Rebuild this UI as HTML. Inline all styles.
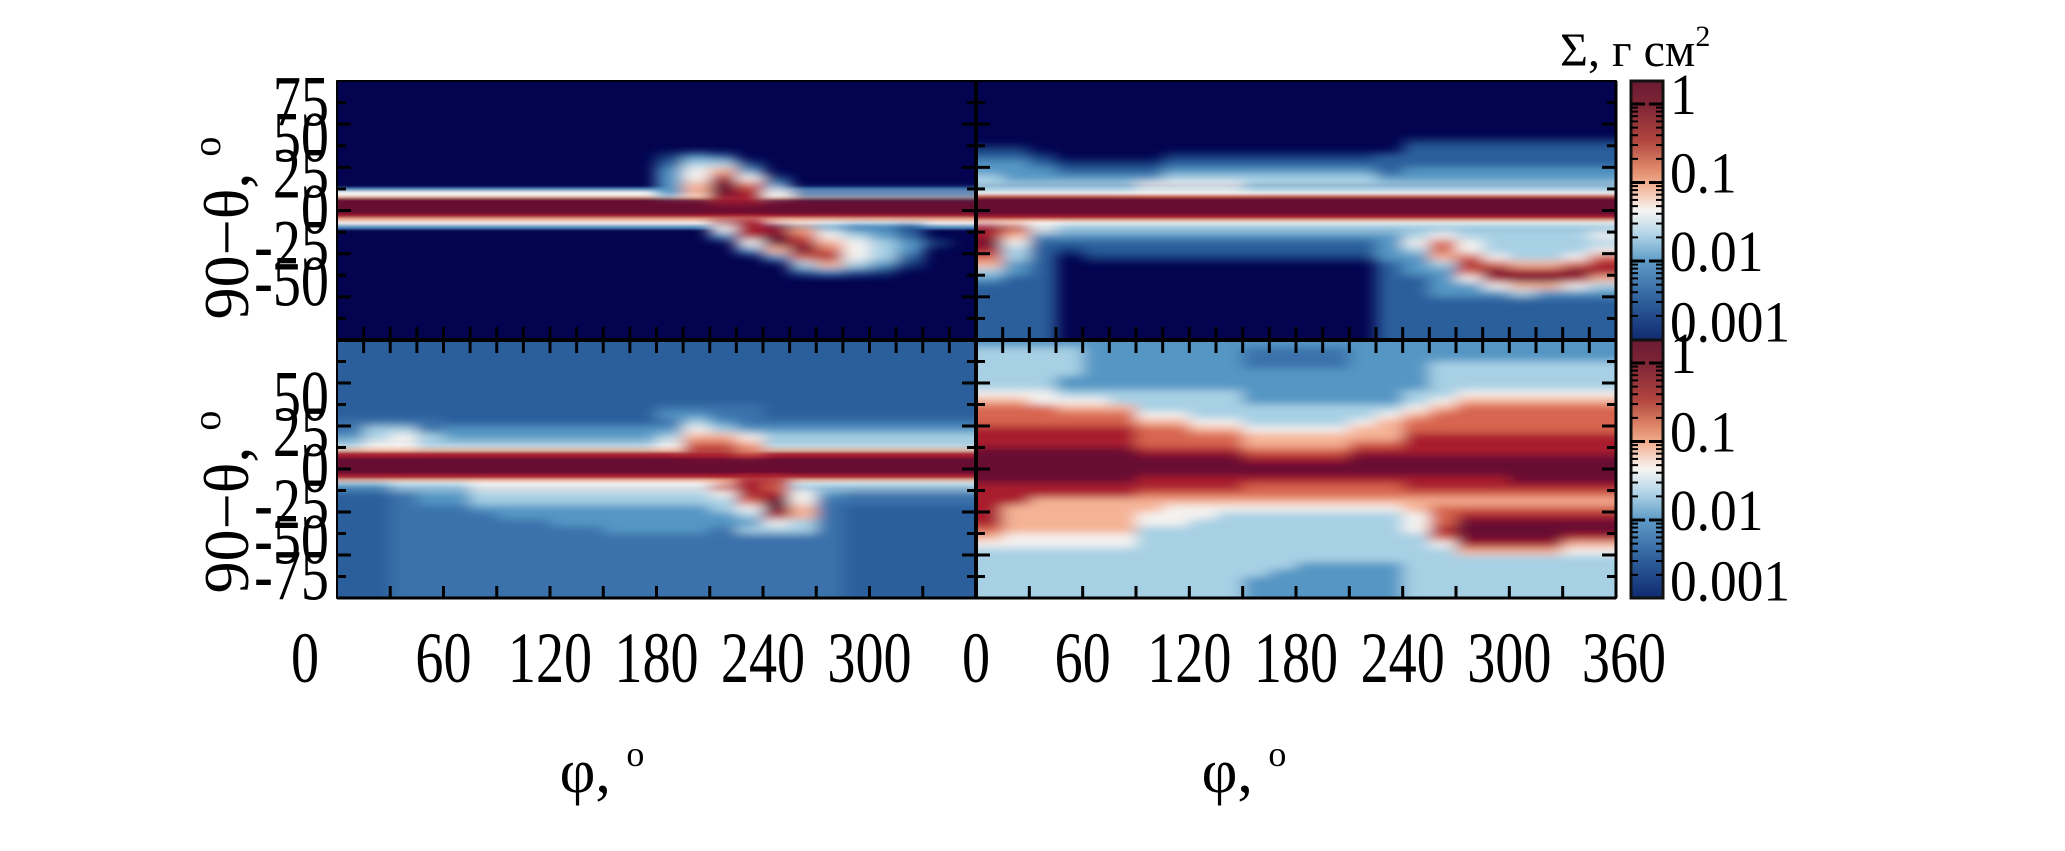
<!DOCTYPE html>
<html><head><meta charset="utf-8"><title>Surface density maps</title>
<style>
html,body{margin:0;padding:0;background:#fff;}
svg{display:block;}
text{font-family:"Liberation Serif",serif;fill:#000;}
</style></head>
<body>
<svg id="fig" width="2065" height="851" viewBox="0 0 2065 851" xmlns="http://www.w3.org/2000/svg">
<defs>
  <filter id="gblur" x="-5%" y="-5%" width="110%" height="110%"><feGaussianBlur stdDeviation="8 4"/></filter>
  <filter id="bblur" x="-2%" y="-10%" width="104%" height="120%"><feGaussianBlur stdDeviation="1 1.2"/></filter>
  <clipPath id="clipTL"><rect x="337" y="81" width="639" height="259"/></clipPath>
  <clipPath id="clipTR"><rect x="976" y="81" width="640" height="259"/></clipPath>
  <clipPath id="clipBL"><rect x="337" y="340" width="639" height="258"/></clipPath>
  <clipPath id="clipBR"><rect x="976" y="340" width="640" height="258"/></clipPath>
  <linearGradient id="cbgrad" x1="0" y1="0" x2="0" y2="1">
    <stop offset="0" stop-color="#6b1a33"/>
    <stop offset="0.09" stop-color="#7d2535"/>
    <stop offset="0.23" stop-color="#b0453f"/>
    <stop offset="0.34" stop-color="#e08a6a"/>
    <stop offset="0.40" stop-color="#f2b092"/>
    <stop offset="0.50" stop-color="#f7f4f2"/>
    <stop offset="0.59" stop-color="#b3d6e8"/>
    <stop offset="0.695" stop-color="#5f9cc8"/>
    <stop offset="0.85" stop-color="#2f5f9c"/>
    <stop offset="1" stop-color="#0f2a70"/>
  </linearGradient>
</defs>
<rect x="0" y="0" width="2065" height="851" fill="#fff"/>
<g id="maps"></g>
<g id="axes"></g>
<g id="cbars">
  <rect x="1631" y="81" width="32" height="259" fill="url(#cbgrad)" stroke="#111" stroke-width="3"/>
  <rect x="1631" y="340" width="32" height="258" fill="url(#cbgrad)" stroke="#111" stroke-width="3"/>
</g>
<text x="1560" y="66" font-size="48">Σ, г см<tspan font-size="30" dy="-20">2</tspan></text>
<text transform="translate(248,228) rotate(-90)" text-anchor="middle" font-size="64">90−θ, <tspan font-size="40" dy="-28">o</tspan></text>
<text transform="translate(248,502) rotate(-90)" text-anchor="middle" font-size="64">90−θ, <tspan font-size="40" dy="-28">o</tspan></text>
<text x="602" y="792" text-anchor="middle" font-size="62">φ, <tspan font-size="36" dy="-26">o</tspan></text>
<text x="1244" y="792" text-anchor="middle" font-size="62">φ, <tspan font-size="36" dy="-26">o</tspan></text>
</svg>
<script>
// ---- data ----
const palette = ['#03034f','#163c7d','#2c5f9c','#5596c4','#a7d0e4','#f4f2f0','#f5b396','#d7654f','#a91e2f','#670f33','#3b72ab'];
const lonStep = 15;
const latStep = 5;
const gridTL = [
"000000 000000 000000 000000","000000 000000 000000 000000","000000 000000 000000 000000","000000 000000 000000 000000",
"000000 000000 000000 000000","000000 000000 000000 000000","000000 000000 000000 000000","000000 000000 000000 000000",
"000000 000000 000000 000000","000000 000000 000000 000000",
"000000 000000 132000 000000","000000 000000 244100 000000","000000 000000 356300 000000","000000 000000 358510 000000",
"000000 000000 369730 000000","000000 000000 369852 222222","000000 000000 008800 000000","000000 000000 000000 000000",
"000000 000000 000000 000000","000000 000000 008800 000000","000000 000000 005886 433200","000000 000000 003897 543200",
"000000 000000 000598 654310","000000 000000 000369 754300","000000 000000 000037 854200","000000 000000 000004 643100",
"000000 000000 000002 321000","000000 000000 000000 000000","000000 000000 000000 000000","000000 000000 000000 000000",
"000000 000000 000000 000000","000000 000000 000000 000000","000000 000000 000000 000000","000000 000000 000000 000000",
"000000 000000 000000 000000","000000 000000 000000 000000"];
const gridTR = [
"000000 000000 000000 000000","000000 000000 000000 000000","000000 000000 000000 000000","000000 000000 000000 000000",
"000000 000000 000000 000000","000000 000000 000000 000000","000000 000000 000000 000000","000000 000000 000000 000000",
"000000 000000 000011 111111","110000 000000 000022 222222","221000 011111 111222 222222","332111 122222 222222 222222",
"333222 233333 333233 333333","433333 344444 444333 333333","444444 555544 444444 444444","000000 000000 000000 000000",
"000000 000000 000000 000000","000000 000000 000000 000000","000000 000000 000000 000000","000000 000000 000000 000000",
"875444 444444 444444 444444","863333 333333 333345 444445","952222 222222 222357 544444","842122 222222 222347 544445",
"742011 111111 111336 754457","632000 000000 000234 876678","432000 000000 000233 798898","322000 000000 000223 589986",
"222000 000000 000223 356654","222000 000000 000223 334333","222000 000000 000222 222222","222000 000000 000222 222222",
"222000 000000 000222 222222","222000 000000 000222 222222","222000 000000 000222 222222","222000 000000 000222 222222"];
const gridBL = [
"222222 222222 222222 222222","222222 222222 222222 222222","222222 222222 222222 222222","222222 222222 222222 222222",
"222222 222222 222222 222222","222222 222222 222222 222222","222222 222222 222222 222222","222222 222222 222222 222222",
"222222 222222 222222 222222","222222 222222 hhhh22 222222","222222 222222 33hh22 222222","hhhh22 222222 h43hhh hhhhhh",
"h44h33 333333 354333 333333","345433 333333 466544 444444","455444 444444 577644 444444","000000 000000 088700 000000",
"000000 000000 000000 000000","000000 000000 000000 000000","000000 000000 000000 000000","000000 000000 000880 000000",
"334445 555555 557874 444444","22h334 444444 445885 3hhhhh","22h334 444444 444795 hhhhhh","22hhh3 333333 334596 h22222",
"22hhhh 333333 333486 h22222","22hhhh hh3333 333354 h22222","22hhhh hhhh33 33h444 h22222","22hhhh hhhhhh hhhhhh h22222",
"22hhhh hhhhhh hhhhhh h22222","22hhhh hhhhhh hhhhhh h22222","22hhhh hhhhhh hhhhhh h22222","22hhhh hhhhhh hhhhhh h22222",
"22hhhh hhhhhh hhhhhh h22222","22hhhh hhhhhh hhhhhh h22222","22hhhh hhhhhh hhhhhh h22222","22hhhh hhhhhh hhhhhh h22222"];
const gridBR = [
"333333 333333 333333 333333","444433 3333hh hh3333 333333","444433 3333hh hh3333 333333","444433 3333hh hh3334 444444",
"444433 333333 333334 444444","444333 333333 333334 444444","444333 333333 333334 444444","555444 444433 333344 555555",
"665554 444433 333345 666666","777666 444444 444456 777777","777777 554444 444567 777777","777777 665544 445677 777777",
"888888 776655 556677 777777","888888 777766 666688 888888","888888 777766 667788 888888","999999 888877 778888 888888",
"999999 999988 889999 999999","999999 999999 999999 999999","999999 999999 999999 999999","999999 888888 888888 889999",
"888888 888877 777788 888888","888888 777777 777777 777777","886666 666666 666666 666666","866666 655555 555567 777777",
"866666 555444 444457 888888","866666 554444 444457 999999","766666 444444 444458 999999","655555 444444 444447 999988",
"555555 444444 444445 888866","444444 444444 444444 666655","444444 444444 444444 444444","444444 444444 333344 444444",
"444444 444443 333344 444444","444444 444433 333344 444444","444444 444433 333344 444444","444444 444433 333344 444444"];
const bandEdgesTL = [16, 13.5, 10, 8.5, -2.5, -5, -7.5, -10, -13];
const bandLevelsTL = [3, 5, 6, 9, 8, 6, 5, 3];
const bandEdgesTR = [17, 14, 11, 9, -3, -6, -8, -11, -14];
const bandLevelsTR = [4, 5, 7, 9, 8, 6, 5, 4];
const bandEdgesBL = [19, 16, 12, 8, -3.5, -7, -9.5, -12, -14];
const bandLevelsBL = [5, 6, 8, 9, 8, 6, 5, 4];
const bandEdgesBR = [];
const bandLevelsBR = [];
const yLabelsTop = [75, 50, 25, 0, -25, -50];
const yLabelsBottom = [50, 25, 0, -25, -50, -75];
const xLabelsLeft = [0, 60, 120, 180, 240, 300];
const xLabelsRight = [0, 60, 120, 180, 240, 300, 360];
const cbTicks = [1, 0.1, 0.01, 0.001];
const cbLabels = ['1', '0.1', '0.01', '0.001'];

// ---- layout ----
const NS = 'http://www.w3.org/2000/svg';
const panels = [
  {id:'TL', x:337, y:81,  w:639, h:259, grid:gridTL, be:bandEdgesTL, bl:bandLevelsTL, name:'panel-top-left'},
  {id:'TR', x:976, y:81,  w:640, h:259, grid:gridTR, be:bandEdgesTR, bl:bandLevelsTR, name:'panel-top-right'},
  {id:'BL', x:337, y:340, w:639, h:258, grid:gridBL, be:bandEdgesBL, bl:bandLevelsBL, name:'panel-bottom-left'},
  {id:'BR', x:976, y:340, w:640, h:258, grid:gridBR, be:bandEdgesBR, bl:bandLevelsBR, name:'panel-bottom-right'}
];
function xs(p, lon){ return p.x + lon/360*p.w; }
function ys(p, lat){ return p.y + (90-lat)/180*p.h; }
function lvl(ch){ return ch === 'h' ? 10 : +ch; }
function mk(tag, attrs, parent){
  const e = document.createElementNS(NS, tag);
  for (const k in attrs) e.setAttribute(k, attrs[k]);
  parent.appendChild(e);
  return e;
}
const maps = document.getElementById('maps');
const axes = document.getElementById('axes');

panels.forEach(p => {
  const g = mk('g', {'clip-path':'url(#clip'+p.id+')'}, maps);
  
  
  const bg = mk('rect', {x:p.x, y:p.y, width:p.w, height:p.h, fill:palette[0]}, g);
  
  
  const bandG = mk('g', {filter:'url(#bblur)'}, g);
  
  
  for (let i = 0; i < p.bl.length; i++) {
    const y0 = ys(p, p.be[i]), y1 = ys(p, p.be[i+1]);
    const s = mk('rect', {x:p.x-20, y:y0, width:p.w+40, height:y1-y0, fill:palette[p.bl[i]]}, bandG);
    
    
  }
  const gridG = mk('g', {filter:'url(#gblur)'}, g);
  
  
  const nRows = p.grid.length;
  p.grid.forEach((rowStr, r) => {
    const row = rowStr.replace(/ /g, '');
    for (let c = 0; c < row.length; c++) {
      const v = lvl(row[c]);
      if (!v) continue;
      let x0 = xs(p, c*lonStep), x1 = xs(p, (c+1)*lonStep);
      let y0 = ys(p, 90 - r*latStep), y1 = ys(p, 90 - (r+1)*latStep);
      if (c === 0) x0 -= 25;
      if (c === row.length-1) x1 += 25;
      if (r === 0) y0 -= 12;
      if (r === nRows-1) y1 += 12;
      const cell = mk('rect', {x:x0, y:y0, width:x1-x0+0.6, height:y1-y0+0.6, fill:palette[v]}, gridG);
      
      
    }
  });
  const fr = mk('rect', {x:p.x, y:p.y, width:p.w, height:p.h, fill:'none', stroke:'#222', 'stroke-width':2}, maps);
  
  
});

function line(x1,y1,x2,y2,w,name){
  const l = mk('line', {x1:x1,y1:y1,x2:x2,y2:y2,stroke:'#000','stroke-width':w}, axes);
  
  
}
line(337, 340, 1616, 340, 4, 'middle-horizontal-axis');
line(976, 81, 976, 598, 4, 'middle-vertical-axis');
line(337, 598, 1616, 598, 3, 'bottom-axis');
line(337, 81, 1616, 81, 2, 'top-axis');
line(337, 81, 337, 598, 2, 'left-axis');
line(1616, 81, 1616, 598, 3, 'right-axis');

panels.forEach(p => {
  for (let lat = -75; lat <= 75; lat += 15) {
    const y = ys(p, lat);
    const len = (lat % 30 === 0) ? 14 : 9;
    line(p.x, y, p.x+len, y, 3, 'y-tick');
    line(p.x+p.w-len, y, p.x+p.w, y, 3, 'y-tick');
  }
  if (p.id === 'BL' || p.id === 'BR') {
    for (let lon = 30; lon < 360; lon += 30) {
      const x = xs(p, lon);
      line(x, 598, x, 586, 3, 'x-tick');
    }
    for (let lon = 15; lon < 360; lon += 15) {
      const x = xs(p, lon);
      line(x, 327, x, 353, 3, 'x-tick-middle');
    }
  }
});

function label(x, y, txt, name, anchor){
  const t = mk('text', {transform:'translate('+x+','+y+') scale(0.78,1)', 'font-size':72, 'text-anchor':anchor}, axes);
  t.textContent = txt;
  
  
}
yLabelsTop.forEach(v => label(329, ys(panels[0], v)+23, String(v), 'y-tick-label', 'end'));
yLabelsBottom.forEach(v => label(329, ys(panels[2], v)+23, String(v), 'y-tick-label', 'end'));
xLabelsLeft.forEach(v => label(xs(panels[2], v) + (v === 0 ? -32 : 0), 682, String(v), 'x-tick-label', 'middle'));
xLabelsRight.forEach(v => label(xs(panels[3], v) + (v === 360 ? 8 : 0), 682, String(v), 'x-tick-label', 'middle'));

const cb = document.getElementById('cbars');
const decadePx = 78.5;
[81, 340].forEach((top, bi) => {
  const yOf = v => top + 23 + (-Math.log10(v))*decadePx;
  const bottom = top + (bi === 0 ? 259 : 258);
  cbTicks.forEach((v, i) => {
    const y = yOf(v);
    if (y < bottom - 2) {
      const a = mk('line', {x1:1631, y1:y, x2:1645, y2:y, stroke:'#000', 'stroke-width':3}, cb);
      
      
      const b = mk('line', {x1:1649, y1:y, x2:1663, y2:y, stroke:'#000', 'stroke-width':3}, cb);
      
      
    }
    const t = mk('text', {transform:'translate(1670,' + (y + (i === 3 ? 2 : 10)) + ') scale(0.92,1)', 'font-size':58}, cb);
    t.textContent = cbLabels[i];
    
    
  });
  for (let d = -3; d < 0; d++) {
    for (let m = 2; m <= 9; m++) {
      const y = yOf(m*Math.pow(10, d));
      const a = mk('line', {x1:1631, y1:y, x2:1638, y2:y, stroke:'#000', 'stroke-width':2}, cb);
      
      
      const b = mk('line', {x1:1656, y1:y, x2:1663, y2:y, stroke:'#000', 'stroke-width':2}, cb);
      
      
    }
  }
});
</script>
</body></html>
